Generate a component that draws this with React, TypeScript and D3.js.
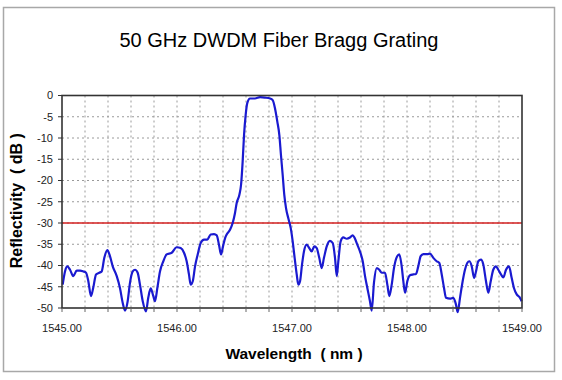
import React from "react";
import * as d3 from "d3";

const wavelength: number[] = [
  1545.006, 1545.026, 1545.046, 1545.07, 1545.098, 1545.128, 1545.157, 1545.185, 1545.209, 1545.229,
  1545.252, 1545.272, 1545.296, 1545.324, 1545.345, 1545.368, 1545.394, 1545.417, 1545.441, 1545.476,
  1545.504, 1545.528, 1545.548, 1545.571, 1545.591, 1545.615, 1545.635, 1545.658, 1545.678, 1545.702,
  1545.73, 1545.75, 1545.771, 1545.794, 1545.809, 1545.829, 1545.852, 1545.881, 1545.91, 1545.954,
  1545.997, 1546.032, 1546.061, 1546.084, 1546.104, 1546.119, 1546.137, 1546.157, 1546.18, 1546.206,
  1546.235, 1546.263, 1546.293, 1546.322, 1546.345, 1546.365, 1546.383, 1546.4, 1546.419, 1546.432,
  1546.461, 1546.484, 1546.504, 1546.519, 1546.542, 1546.557, 1546.571, 1546.583, 1546.597, 1546.611,
  1546.635, 1546.678, 1546.722, 1546.765, 1546.809, 1546.832, 1546.852, 1546.872, 1546.89, 1546.904,
  1546.919, 1546.933, 1546.948, 1546.968, 1546.989, 1547.006, 1547.023, 1547.041, 1547.055, 1547.07,
  1547.087, 1547.104, 1547.128, 1547.15, 1547.171, 1547.194, 1547.215, 1547.237, 1547.258, 1547.278,
  1547.302, 1547.33, 1547.354, 1547.374, 1547.389, 1547.403, 1547.423, 1547.446, 1547.476, 1547.504,
  1547.527, 1547.548, 1547.568, 1547.591, 1547.615, 1547.635, 1547.655, 1547.678, 1547.693, 1547.713,
  1547.737, 1547.759, 1547.78, 1547.809, 1547.829, 1547.846, 1547.867, 1547.887, 1547.91, 1547.933,
  1547.954, 1547.968, 1547.983, 1548.003, 1548.026, 1548.055, 1548.078, 1548.098, 1548.119, 1548.142,
  1548.177, 1548.2, 1548.229, 1548.258, 1548.281, 1548.302, 1548.322, 1548.339, 1548.374, 1548.403,
  1548.426, 1548.441, 1548.461, 1548.484, 1548.504, 1548.524, 1548.542, 1548.563, 1548.583, 1548.6,
  1548.62, 1548.643, 1548.664, 1548.687, 1548.707, 1548.728, 1548.75, 1548.774, 1548.794, 1548.817,
  1548.838, 1548.861, 1548.887, 1548.91, 1548.93, 1548.954, 1548.977, 1548.997,
];

const reflectivity: number[] = [
  -44.5, -41.4, -40.2, -41.0, -42.5, -41.2, -41.2, -41.4, -41.7, -43.7,
  -47.2, -45.2, -42.1, -41.7, -41.4, -38.2, -36.4, -37.8, -40.2, -42.5,
  -45.3, -48.8, -50.6, -48.4, -44.1, -41.4, -41.0, -41.7, -44.5, -48.4,
  -50.8, -47.6, -45.4, -47.2, -48.4, -45.3, -41.4, -39.0, -37.4, -37.0,
  -35.7, -35.9, -37.0, -39.0, -42.1, -44.5, -43.7, -40.2, -37.4, -34.7,
  -33.9, -33.9, -32.7, -32.6, -32.9, -35.1, -37.4, -35.5, -33.5, -32.7,
  -31.6, -30.0, -27.7, -25.3, -23.4, -21.0, -15.5, -9.3, -4.6, -1.8,
  -0.7, -0.7, -0.4, -0.5, -0.7, -1.1, -3.0, -6.1, -9.3, -14.0,
  -18.7, -23.4, -26.5, -28.9, -31.2, -34.3, -38.2, -42.1, -44.5, -43.7,
  -39.8, -36.7, -35.1, -35.9, -36.7, -35.5, -35.9, -38.2, -40.6, -38.2,
  -35.5, -34.2, -34.7, -38.2, -42.5, -39.0, -34.3, -33.4, -33.7, -33.4,
  -32.9, -33.7, -35.1, -36.7, -39.0, -42.5, -45.3, -48.4, -50.6, -44.0,
  -40.6, -41.0, -41.7, -41.7, -44.5, -47.2, -44.5, -40.6, -38.1, -37.4,
  -40.2, -43.7, -46.4, -43.7, -42.3, -42.1, -42.0, -40.2, -37.8, -37.3,
  -37.3, -37.2, -38.2, -39.0, -39.4, -42.1, -45.3, -47.6, -47.8, -47.6,
  -49.2, -51.0, -47.6, -43.7, -41.0, -39.4, -39.0, -40.2, -42.9, -41.4,
  -39.0, -38.6, -39.8, -43.7, -46.4, -43.7, -41.0, -40.2, -41.0, -42.1,
  -42.8, -41.0, -40.2, -42.9, -45.3, -46.8, -47.4, -48.4,
];

const xTickLabels: number[] = [1545, 1546, 1547, 1548, 1549];
const yTickLabels: number[] = [0, -5, -10, -15, -20, -25, -30, -35, -40, -45, -50];
const thresholdDb: number[] = [-30];

const titleText = "50 GHz DWDM Fiber Bragg Grating";
const xTitle = "Wavelength  ( nm )";
const yTitle = "Reflectivity  ( dB )";

export default function App() {
  const W = 562;
  const H = 380;
  const left = 62;
  const right = 522;
  const top = 95.5;
  const bottom = 308;

  const x = d3.scaleLinear().domain([1545, 1549]).range([left, right]);
  const y = d3.scaleLinear().domain([-50, 0]).range([bottom, top]);

  const pts: [number, number][] = wavelength.map((w, i) => [w, reflectivity[i]]);
  const line = d3
    .line<[number, number]>()
    .x((d) => x(d[0]))
    .y((d) => y(d[1]))
    .curve(d3.curveMonotoneX);

  const vGrid = d3.range(1, 20).map((i) => 1545 + i * 0.2);
  const minorX = d3.range(0, 21).map((i) => 1545 + i * 0.2);
  const hGrid = yTickLabels.filter((v) => v !== 0 && v !== -50);
  const font = "'Liberation Sans', Arial, sans-serif";

  return (
    <svg
      width={W}
      height={H}
      style={{ position: "absolute", left: 0, top: 0, background: "#fff" }}
      fontFamily={font}
    >
      <rect x={0} y={0} width={W} height={H} fill="#fff" />
      <rect x={3.5} y={7.5} width={551} height={364} fill="#fff" stroke="#a8a8a8" strokeWidth={1.5} />

      <text x={279} y={47} textAnchor="middle" fontSize={20} fill="#000">
        {titleText}
      </text>

      {vGrid.map((v, i) => (
        <line key={"vg" + i} x1={x(v)} x2={x(v)} y1={top} y2={bottom} stroke="#9a9a9a" strokeWidth={1} strokeDasharray="2,3" />
      ))}
      {hGrid.map((v, i) => (
        <line key={"hg" + i} x1={left} x2={right} y1={y(v)} y2={y(v)} stroke="#9a9a9a" strokeWidth={1} strokeDasharray="2,3" />
      ))}

      {thresholdDb.map((v, i) => (
        <line key={"th" + i} x1={left} x2={right} y1={y(v)} y2={y(v)} stroke="#d42020" strokeWidth={1.6} />
      ))}

      <path d={line(pts) || ""} fill="none" stroke="#1a1ad0" strokeWidth={2.2} strokeLinejoin="round" />

      <rect x={left} y={top} width={right - left} height={bottom - top} fill="none" stroke="#333" strokeWidth={1.6} />

      {yTickLabels.map((v, i) => (
        <g key={"yt" + i}>
          <line x1={left - 4} x2={left} y1={y(v)} y2={y(v)} stroke="#333" strokeWidth={1} />
          <text x={53} y={y(v)} dy="0.35em" textAnchor="end" fontSize={11} fill="#222">
            {v}
          </text>
        </g>
      ))}
      {minorX.map((v, i) => (
        <line key={"xt" + i} x1={x(v)} x2={x(v)} y1={bottom} y2={bottom + 4} stroke="#666" strokeWidth={1} />
      ))}
      {xTickLabels.map((v, i) => (
        <text key={"xl" + i} x={x(v)} y={332} textAnchor="middle" fontSize={11} fill="#222">
          {v.toFixed(2)}
        </text>
      ))}

      <text x={294} y={359} textAnchor="middle" fontSize={15.5} fontWeight="bold" fill="#000" style={{ whiteSpace: "pre" }}>
        {xTitle}
      </text>
      <text
        transform={`translate(22,${(top + bottom) / 2 - 1}) rotate(-90)`}
        textAnchor="middle"
        fontSize={16}
        fontWeight="bold"
        fill="#000"
        style={{ whiteSpace: "pre" }}
      >
        {yTitle}
      </text>
    </svg>
  );
}
